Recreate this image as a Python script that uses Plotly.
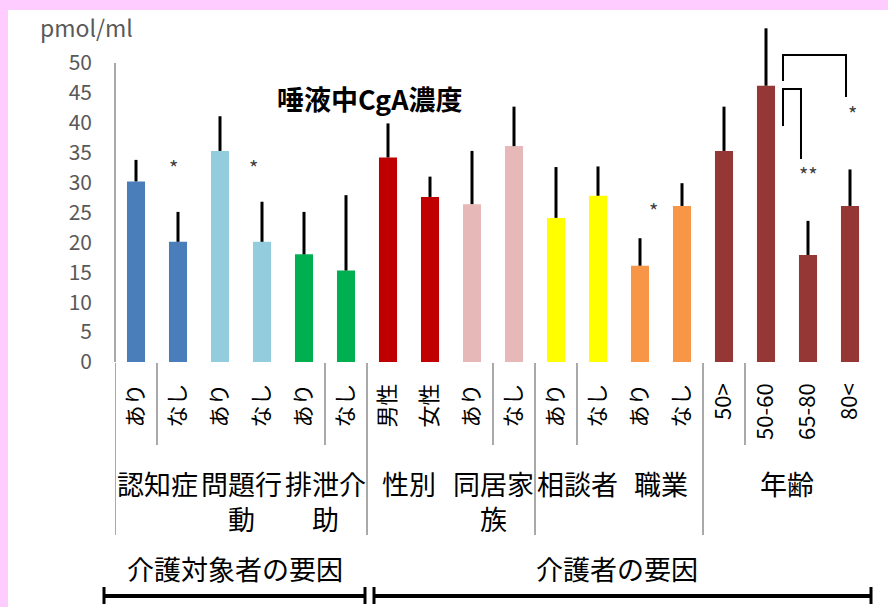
import plotly.graph_objects as go

# ---- data ----
tick_labels = ["あり", "なし", "あり", "なし", "あり", "なし", "男性", "女性",
               "あり", "なし", "あり", "なし", "あり", "なし",
               "50>", "50-60", "65-80", "80<"]
means = [30.2, 20.1, 35.3, 20.1, 18.0, 15.3, 34.2, 27.6,
         26.4, 36.1, 24.1, 27.8, 16.1, 26.1, 35.3, 46.2, 17.9, 26.1]
sd = [3.6, 5.0, 5.8, 6.7, 7.1, 12.6, 5.7, 3.4,
      8.9, 6.6, 8.5, 4.9, 4.6, 3.8, 7.4, 9.6, 5.7, 6.1]
group_labels = ["認知症", "問題行<br>動", "排泄介<br>助", "性別", "同居家<br>族", "相談者", "職業", "年齢"]
group_centers = [0.5, 2.5, 4.5, 6.5, 8.5, 10.5, 12.5, 15.5]
super_labels = ["介護対象者の要因", "介護者の要因"]
y_ticks = [0, 5, 10, 15, 20, 25, 30, 35, 40, 45, 50]

# ---- styles ----
bar_colors = ["#4a7ebb", "#4a7ebb", "#93cddd", "#93cddd", "#00b050", "#00b050",
              "#c00000", "#c00000", "#e6b9b8", "#e6b9b8", "#ffff00", "#ffff00",
              "#f79646", "#f79646", "#953735", "#953735", "#953735", "#953735"]
W, H = 888, 607
L, R, T, B = 115, 17, 20, 245
PW = W - L - R
PH = H - T - B
JP = "Noto Sans CJK JP"


def px(p):
    return (p - L) / PW


def py(p):
    return (H - B - p) / PH


xs = list(range(len(tick_labels)))

fig = go.Figure()
fig.add_trace(go.Bar(
    x=xs, y=means, width=0.43,
    marker=dict(color=bar_colors, line=dict(width=0)),
    error_y=dict(type="data", array=sd, arrayminus=[0] * len(sd), symmetric=False,
                 width=0, thickness=3, color="black"),
    showlegend=False,
))

shapes = []
# pink frame
shapes.append(dict(type="rect", xref="paper", yref="paper", x0=px(0), x1=px(8),
                   y0=py(H), y1=py(0), fillcolor="#ffccff", line=dict(width=0), layer="below"))
shapes.append(dict(type="rect", xref="paper", yref="paper", x0=px(0), x1=px(W),
                   y0=py(10), y1=py(0), fillcolor="#ffccff", line=dict(width=0), layer="below"))
# y axis line (0..50) extending down as separator
shapes.append(dict(type="line", xref="paper", yref="y", x0=0, x1=0, y0=50, y1=0,
                   line=dict(color="#8c8c8c", width=1.5)))
for xv in [-0.5, 5.5, 9.5, 13.5]:
    shapes.append(dict(type="line", xref="x", yref="paper", x0=xv, x1=xv,
                       y0=py(363), y1=py(535), line=dict(color="#8c8c8c", width=1.5)))
for xv in [0.5, 4.5, 8.5, 10.5, 14.5]:
    shapes.append(dict(type="line", xref="x", yref="paper", x0=xv, x1=xv,
                       y0=py(363), y1=py(445), line=dict(color="#8c8c8c", width=1.5)))
# bottom brackets
for a, b in [(104, 365), (374, 871)]:
    shapes.append(dict(type="line", xref="paper", yref="paper", x0=px(a), x1=px(b),
                       y0=py(596), y1=py(596), line=dict(color="black", width=4)))
    for c in (a, b):
        shapes.append(dict(type="line", xref="paper", yref="paper", x0=px(c), x1=px(c),
                           y0=py(587), y1=py(604), line=dict(color="black", width=3)))
# significance brackets (age group)
shapes.append(dict(type="path", xref="x", yref="y",
                   path="M 15.405 47.0 L 15.405 51.34 L 16.905 51.34 L 16.905 44.3",
                   line=dict(color="black", width=2)))
shapes.append(dict(type="path", xref="x", yref="y",
                   path="M 15.405 39.46 L 15.405 45.65 L 15.833 45.65 L 15.833 33.95",
                   line=dict(color="black", width=2)))

ann = []
for lab, c in zip(group_labels, group_centers):
    nlines = lab.count("<br>") + 1
    center = 483 + (nlines - 1) * 35.1 / 2
    ann.append(dict(text=lab, x=c, xref="x", y=py(center), yref="paper",
                    showarrow=False, xanchor="center", yanchor="middle",
                    font=dict(family=JP, size=27, color="black")))
for lab, c in zip(super_labels, [235, 617]):
    ann.append(dict(text=lab, x=px(c), xref="paper", y=py(568), yref="paper",
                    showarrow=False, xanchor="center", yanchor="middle",
                    font=dict(family=JP, size=27, color="black")))
ann.append(dict(text="<b>唾液中CgA濃度</b>", x=px(370), xref="paper", y=py(98.5), yref="paper",
                showarrow=False, xanchor="center", yanchor="middle",
                font=dict(family=JP, size=27, color="black")))
ann.append(dict(text="pmol/ml", x=px(86), xref="paper", y=py(27), yref="paper",
                showarrow=False, xanchor="center", yanchor="middle",
                font=dict(family=JP, size=23, color="#595959")))
for t, xv, yv in [("*", 0.9, 32.6), ("*", 2.79, 32.6), ("*", 12.31, 25.3),
                  ("**", 16.0, 31.3), ("*", 17.07, 41.6)]:
    ann.append(dict(text=t, x=xv, xref="x", y=yv, yref="y", showarrow=False,
                    xanchor="center", yanchor="middle",
                    font=dict(family=JP, size=20, color="#404040")))

fig.update_layout(
    width=W, height=H,
    margin=dict(l=L, r=R, t=T, b=B, pad=0),
    paper_bgcolor="white", plot_bgcolor="white",
    shapes=shapes, annotations=ann,
    xaxis=dict(range=[-0.5, 17.5], tickvals=xs, ticktext=tick_labels, tickangle=-90,
               showgrid=False, zeroline=False, showline=False, ticks="",
               ticklabelstandoff=16,
               tickfont=dict(family=JP, size=22, color="black")),
    yaxis=dict(range=[0, PH / 5.98], tickvals=y_ticks, showgrid=False, zeroline=False,
               showline=False, ticks="", ticklabelstandoff=22,
               tickfont=dict(family=JP, size=21, color="#595959")),
)

fig.write_html("out.html", config={"displayModeBar": False},
               post_script="document.body.style.margin='0';document.body.style.overflow='hidden';")
